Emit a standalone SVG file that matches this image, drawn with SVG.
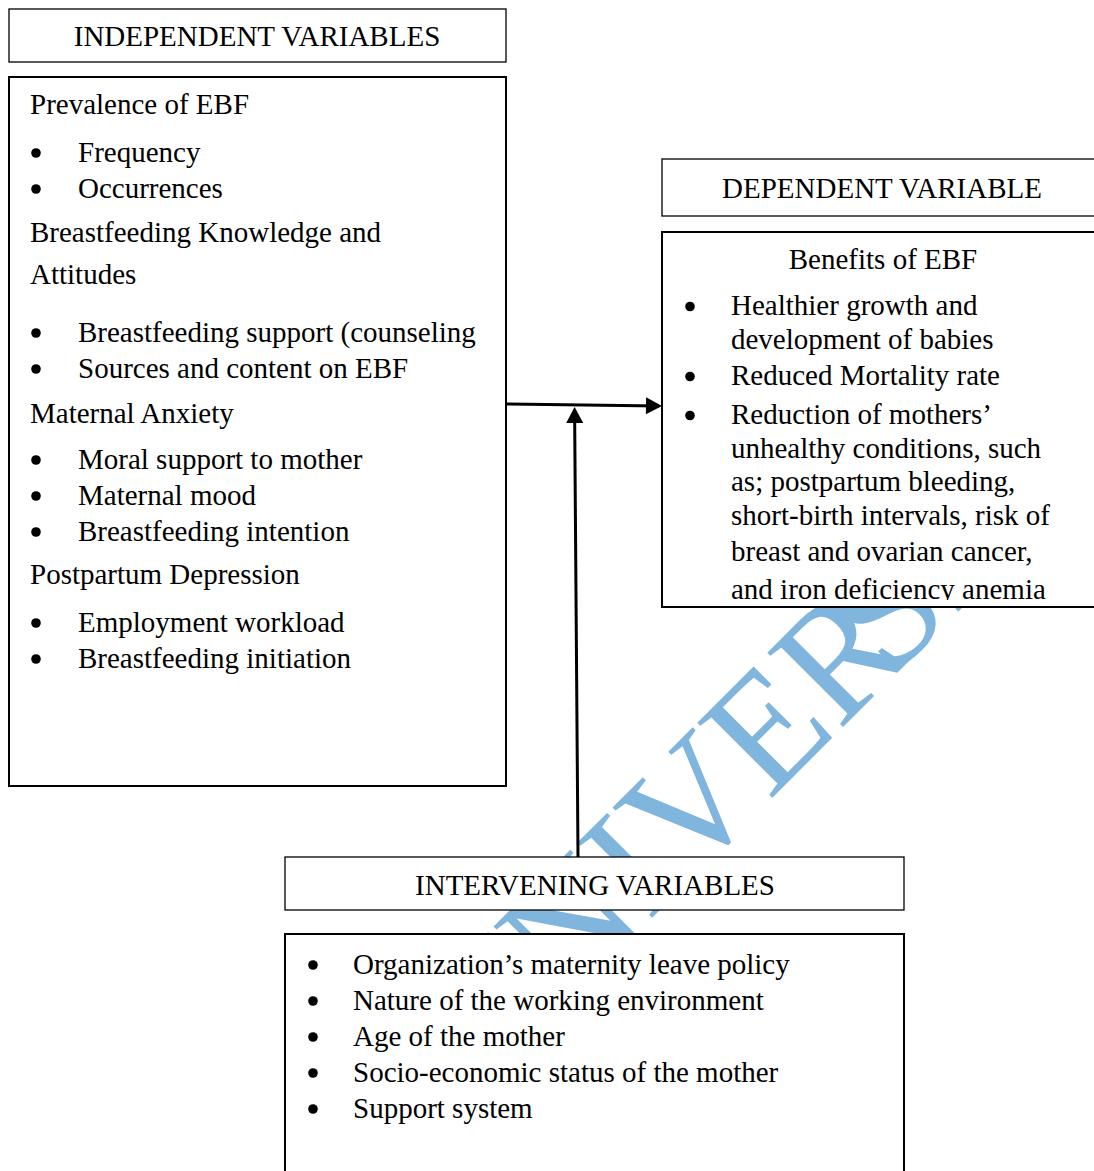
<svg xmlns="http://www.w3.org/2000/svg" width="1094" height="1171" viewBox="0 0 1094 1171">
<defs>
<style>
text{font-family:"Liberation Serif","Times New Roman",serif;font-size:29px;fill:#000}
.mid{text-anchor:middle}
.hdr{fill:#fff;stroke:#000;stroke-width:1.3}
.box{fill:#fff;stroke:#000;stroke-width:2}
.dot{fill:#000}
.wm{font-size:162px;fill:#80b5de}
.conn{stroke:#000;stroke-width:3;fill:none}
</style>
<marker id="arrow" markerUnits="userSpaceOnUse" markerWidth="17" markerHeight="17" viewBox="0 0 16 17" refX="13" refY="8.5" orient="auto">
<path d="M0,0 L16,8.5 L0,17 z" fill="#000"/>
</marker>
<clipPath id="depclip"><rect x="662" y="232" width="432" height="368"/></clipPath>
</defs>
<rect width="1094" height="1171" fill="#fff"/>
<g id="watermark">
<text class="wm" transform="translate(728,842) rotate(-45)" x="-347" y="0">UNIVER<tspan dx="-35">SITY</tspan></text>
</g>
<g id="independent-header">
<rect class="hdr" x="9" y="9" width="497" height="53"/>
<text class="mid" x="257" y="46">INDEPENDENT VARIABLES</text>
</g>
<g id="independent-body">
<rect class="box" x="9" y="77" width="497" height="709"/>
<text x="30" y="114">Prevalence of EBF</text>
<circle class="dot" cx="36" cy="153" r="4.8"/><text x="78" y="161.5">Frequency</text>
<circle class="dot" cx="36" cy="189" r="4.8"/><text x="78" y="197.5">Occurrences</text>
<text x="30" y="242">Breastfeeding Knowledge and</text>
<text x="30" y="284">Attitudes</text>
<circle class="dot" cx="36" cy="333" r="4.8"/><text x="78" y="341.5">Breastfeeding support (counseling</text>
<circle class="dot" cx="36" cy="369" r="4.8"/><text x="78" y="377.5">Sources and content on EBF</text>
<text x="30" y="422.5">Maternal Anxiety</text>
<circle class="dot" cx="36" cy="460" r="4.8"/><text x="78" y="468.5">Moral support to mother</text>
<circle class="dot" cx="36" cy="496" r="4.8"/><text x="78" y="504.5">Maternal mood</text>
<circle class="dot" cx="36" cy="532" r="4.8"/><text x="78" y="540.5">Breastfeeding intention</text>
<text x="30" y="584">Postpartum Depression</text>
<circle class="dot" cx="36" cy="623" r="4.8"/><text x="78" y="631.5">Employment workload</text>
<circle class="dot" cx="36" cy="659" r="4.8"/><text x="78" y="667.5">Breastfeeding initiation</text>
</g>
<g id="dependent-header">
<rect class="hdr" x="662" y="159" width="450" height="57"/>
<text class="mid" x="882" y="197.5">DEPENDENT VARIABLE</text>
</g>
<g id="dependent-body">
<rect class="box" x="662" y="232" width="450" height="375"/>
<g clip-path="url(#depclip)">
<text class="mid" x="883" y="269">Benefits of EBF</text>
<circle class="dot" cx="690" cy="306.5" r="4.8"/><text x="731" y="315">Healthier growth and</text>
<text x="731" y="349">development of babies</text>
<circle class="dot" cx="690" cy="376.5" r="4.8"/><text x="731" y="385">Reduced Mortality rate</text>
<circle class="dot" cx="690" cy="415.5" r="4.8"/><text x="731" y="424">Reduction of mothers’</text>
<text x="731" y="458">unhealthy conditions, such</text>
<text x="731" y="491">as; postpartum bleeding,</text>
<text x="731" y="524.5">short-birth intervals, risk of</text>
<text x="731" y="561">breast and ovarian cancer,</text>
<text x="731" y="599">and iron deficiency anemia</text>
</g>
</g>
<g id="intervening-header">
<rect class="hdr" x="285" y="857" width="619" height="53"/>
<text class="mid" x="595" y="894.5">INTERVENING VARIABLES</text>
</g>
<g id="intervening-body">
<rect class="box" x="285" y="934" width="619" height="260"/>
<circle class="dot" cx="313" cy="965" r="4.8"/><text x="353" y="973.5">Organization’s maternity leave policy</text>
<circle class="dot" cx="313" cy="1001" r="4.8"/><text x="353" y="1009.5">Nature of the working environment</text>
<circle class="dot" cx="313" cy="1037" r="4.8"/><text x="353" y="1045.5">Age of the mother</text>
<circle class="dot" cx="313" cy="1073" r="4.8"/><text x="353" y="1081.5">Socio-economic status of the mother</text>
<circle class="dot" cx="313" cy="1109" r="4.8"/><text x="353" y="1117.5">Support system</text>
</g>
<g id="connectors">
<path class="conn" d="M506,404 L659,406" marker-end="url(#arrow)"/>
<path class="conn" d="M578,857 L574.6,410" marker-end="url(#arrow)"/>
</g>
</svg>
